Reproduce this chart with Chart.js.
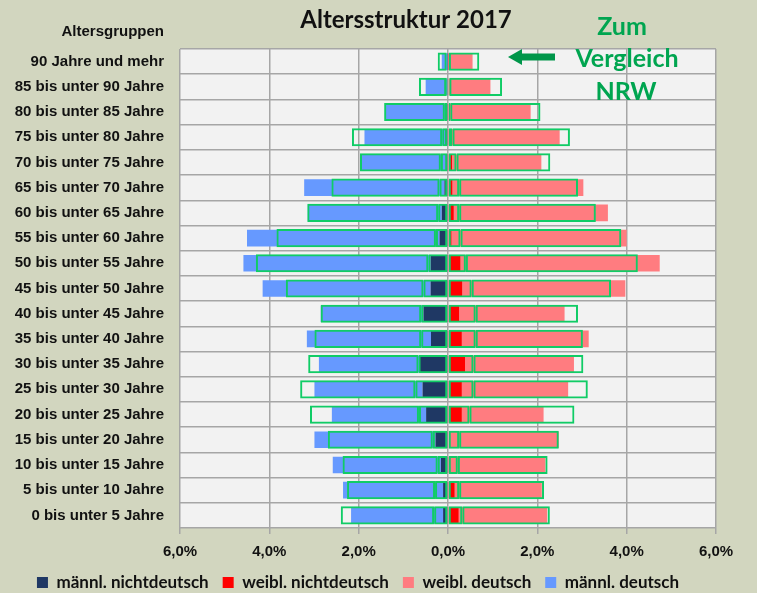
<!DOCTYPE html>
<html lang="de">
<head>
<meta charset="utf-8">
<title>Altersstruktur 2017</title>
<script src="https://cdn.jsdelivr.net/npm/chart.js@4/dist/chart.umd.min.js"></script>
<style>
  html, body { margin: 0; padding: 0; background: #d2d6bf; }
  #wrap { width: 757px; height: 593px; }
</style>
</head>
<body>
<div id="wrap"><canvas id="pyramid" width="757" height="593"></canvas></div>
<script>
// Altersgruppen von oben (alt) nach unten (jung)
const altersgruppen = [
    '90 Jahre und mehr', '85 bis unter 90 Jahre', '80 bis unter 85 Jahre',
    '75 bis unter 80 Jahre', '70 bis unter 75 Jahre', '65 bis unter 70 Jahre',
    '60 bis unter 65 Jahre', '55 bis unter 60 Jahre', '50 bis unter 55 Jahre',
    '45 bis unter 50 Jahre', '40 bis unter 45 Jahre', '35 bis unter 40 Jahre',
    '30 bis unter 35 Jahre', '25 bis unter 30 Jahre', '20 bis unter 25 Jahre',
    '15 bis unter 20 Jahre', '10 bis unter 15 Jahre', '5 bis unter 10 Jahre',
    '0 bis unter 5 Jahre'
];

// Anteile an der Gesamtbevölkerung in %
const maennlNichtdeutsch = [0.01, 0.02, 0.03, 0.06, 0.05, 0.08, 0.14, 0.19, 0.39, 0.39, 0.55, 0.38, 0.63, 0.57, 0.49, 0.28, 0.16, 0.11, 0.11];
const maennlDeutsch      = [0.13, 0.48, 1.38, 1.81, 1.89, 3.14, 3.00, 4.31, 4.19, 3.76, 2.30, 2.78, 2.26, 2.42, 2.11, 2.71, 2.42, 2.24, 2.06];
const weiblNichtdeutsch  = [0.01, 0.02, 0.03, 0.03, 0.09, 0.10, 0.13, 0.08, 0.28, 0.32, 0.25, 0.31, 0.38, 0.31, 0.31, 0.00, 0.05, 0.15, 0.24];
const weiblDeutsch       = [0.54, 0.93, 1.82, 2.47, 2.00, 2.93, 3.45, 3.92, 4.46, 3.65, 2.36, 2.84, 2.44, 2.38, 1.83, 2.48, 2.13, 1.95, 1.98];

// Vergleichswerte NRW
const nrwMaennlNichtdeutsch = [0.03, 0.04, 0.07, 0.13, 0.16, 0.19, 0.22, 0.27, 0.44, 0.55, 0.60, 0.60, 0.66, 0.73, 0.65, 0.34, 0.23, 0.29, 0.31];
const nrwMaennlDeutsch      = [0.20, 0.61, 1.36, 2.02, 1.81, 2.42, 2.93, 3.57, 3.86, 3.08, 2.25, 2.39, 2.47, 2.58, 2.44, 2.35, 2.13, 1.97, 2.09];
const nrwWeiblNichtdeutsch  = [0.02, 0.03, 0.05, 0.10, 0.19, 0.25, 0.25, 0.28, 0.40, 0.53, 0.62, 0.62, 0.57, 0.57, 0.48, 0.25, 0.22, 0.25, 0.32];
const nrwWeiblDeutsch       = [0.68, 1.18, 2.02, 2.63, 2.10, 2.66, 3.06, 3.60, 3.85, 3.12, 2.29, 2.40, 2.46, 2.56, 2.35, 2.23, 2.01, 1.90, 1.96];

const xTicks = [-6, -4, -2, 0, 2, 4, 6];

const links = arr => arr.map(v => -v);   // Männer nach links

const gruen = '#10cc66';
const labelFont = { family: '"Liberation Sans", Arial, sans-serif', weight: 'bold', size: 15 };

function nrwBox(label, data) {
    return {
        label: label,
        data: data,
        stack: 'nrw',
        order: -1,
        backgroundColor: 'rgba(0,0,0,0)',
        borderColor: gruen,
        borderWidth: 2,
        borderSkipped: false,
        barPercentage: 0.72
    };
}

// Plotfläche, Überschriften und Hinweis auf NRW
const beschriftung = {
    id: 'beschriftung',
    beforeDraw(chart) {
        const { ctx, chartArea: a } = chart;
        ctx.save();
        ctx.fillStyle = '#f2f2f2';
        ctx.fillRect(a.left, a.top, a.right - a.left, a.bottom - a.top);
        ctx.restore();
    },
    afterDraw(chart) {
        const ctx = chart.ctx;
        ctx.save();
        ctx.textBaseline = 'middle';

        ctx.fillStyle = '#111';
        ctx.font = 'bold 15px "Liberation Sans", Arial, sans-serif';
        ctx.textAlign = 'right';
        ctx.fillText('Altersgruppen', 164, 32);

        ctx.font = 'bold 24px Lato, "Open Sans", sans-serif';
        ctx.textAlign = 'center';
        ctx.fillText('Altersstruktur 2017', 406, 20);

        ctx.fillStyle = '#00a550';
        ctx.font = 'bold 25px Lato, "Open Sans", sans-serif';
        ctx.fillText('Zum', 622, 27);
        ctx.fillText('Vergleich', 627, 59);
        ctx.fillText('NRW', 626, 92);

        // Pfeil nach links
        ctx.fillStyle = '#00964a';
        ctx.beginPath();
        ctx.moveTo(508, 57);
        ctx.lineTo(522, 49);
        ctx.lineTo(522, 53.5);
        ctx.lineTo(555, 53.5);
        ctx.lineTo(555, 60.5);
        ctx.lineTo(522, 60.5);
        ctx.lineTo(522, 65);
        ctx.closePath();
        ctx.fill();
        ctx.restore();
    }
};

const ctx = document.getElementById('pyramid').getContext('2d');
new Chart(ctx, {
    type: 'bar',
    data: {
        labels: altersgruppen,
        datasets: [{
            label: 'männl. nichtdeutsch',
            data: links(maennlNichtdeutsch),
            stack: 'ort',
            backgroundColor: '#1f3864'
        }, {
            label: 'weibl. nichtdeutsch',
            data: weiblNichtdeutsch,
            stack: 'ort',
            backgroundColor: '#ff0000'
        }, {
            label: 'weibl. deutsch',
            data: weiblDeutsch,
            stack: 'ort',
            backgroundColor: '#ff7c80'
        }, {
            label: 'männl. deutsch',
            data: links(maennlDeutsch),
            stack: 'ort',
            backgroundColor: '#6699ff'
        },
        nrwBox('NRW männl. nichtdeutsch', links(nrwMaennlNichtdeutsch)),
        nrwBox('NRW männl. deutsch', links(nrwMaennlDeutsch)),
        nrwBox('NRW weibl. nichtdeutsch', nrwWeiblNichtdeutsch),
        nrwBox('NRW weibl. deutsch', nrwWeiblDeutsch)]
    },
    options: {
        indexAxis: 'y',
        responsive: false,
        animation: false,
        datasets: {
            bar: { grouped: false, barPercentage: 0.66, categoryPercentage: 1 }
        },
        layout: { padding: { top: 49, right: 41, left: 0, bottom: 0 } },
        scales: {
            x: {
                stacked: true,
                min: -6,
                max: 6,
                afterBuildTicks: scale => { scale.ticks = xTicks.map(v => ({ value: v })); },
                afterFit: scale => { scale.height = 32; },
                grid: { color: '#a6a6a6', lineWidth: 1.5, tickLength: 6 },
                border: { display: false },
                ticks: {
                    padding: 9,
                    color: '#111',
                    font: labelFont,
                    maxRotation: 0,
                    callback: v => Math.abs(v).toFixed(1).replace('.', ',') + '%'
                }
            },
            y: {
                stacked: true,
                afterFit: scale => { scale.width = 180; },
                grid: { color: '#a6a6a6', lineWidth: 1.5, drawTicks: false },
                border: { display: false },
                ticks: { padding: 16, color: '#111', font: labelFont, autoSkip: false }
            }
        },
        plugins: {
            tooltip: { enabled: false },
            legend: {
                position: 'bottom',
                maxHeight: 33,
                labels: {
                    filter: item => item.datasetIndex < 4,
                    boxWidth: 11,
                    boxHeight: 11,
                    padding: 14,
                    color: '#111',
                    font: { family: 'Lato, "Open Sans", sans-serif', weight: 'bold', size: 17 }
                }
            }
        }
    },
    plugins: [beschriftung]
});
</script>
</body>
</html>
